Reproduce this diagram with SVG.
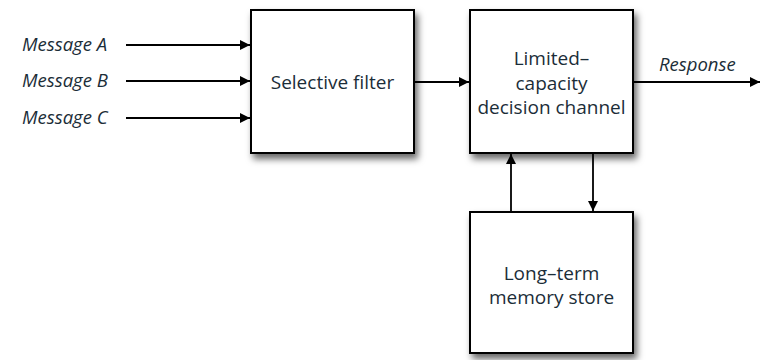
<svg xmlns="http://www.w3.org/2000/svg" width="760" height="360" viewBox="0 0 760 360">
<style>
.box{fill:#fff;stroke:#000;stroke-width:2;filter:url(#sh)}
.t{font-family:"Open Sans","Noto Sans",sans-serif;font-size:19px;fill:#1b2d38;text-anchor:middle}
.i{font-family:"Open Sans","Noto Sans",sans-serif;font-size:18.5px;fill:#1b2d38;font-style:italic}
.c{stroke:#000;stroke-width:1.8;fill:none;marker-end:url(#ah)}
</style>
<defs>
<filter id="sh" x="-20%" y="-20%" width="150%" height="150%">
<feDropShadow dx="3" dy="5" stdDeviation="3.5" flood-color="#000" flood-opacity="0.6"/>
</filter>
<marker id="ah" viewBox="0 0 10 10" refX="10" refY="5" markerWidth="10" markerHeight="10" markerUnits="userSpaceOnUse" orient="auto">
<path d="M0,0 L10,5 L0,10 z" fill="#000"/>
</marker>
</defs>
<g id="filter"><rect class="box" x="251" y="10" width="163" height="143"/><text class="t" x="332.5" y="89">Selective filter</text></g>
<g id="channel"><rect class="box" x="470" y="10" width="163" height="143"/><text class="t" x="551.5" y="65">Limited–</text><text class="t" x="551.5" y="90">capacity</text><text class="t" x="551.5" y="114">decision channel</text></g>
<g id="memory"><rect class="box" x="470" y="212" width="163" height="141"/><text class="t" x="551.5" y="280">Long–term</text><text class="t" x="551.5" y="304">memory store</text></g>
<g id="labels">
<text class="i" x="22" y="51">Message A</text>
<text class="i" x="22" y="87">Message B</text>
<text class="i" x="22" y="124">Message C</text>
<text class="i" x="659" y="71">Response</text>
</g>
<g id="connectors">
<line class="c" x1="126" y1="45" x2="250" y2="45"/>
<line class="c" x1="126" y1="81" x2="250" y2="81"/>
<line class="c" x1="126" y1="118" x2="250" y2="118"/>
<line class="c" x1="414" y1="82" x2="469" y2="82"/>
<line class="c" x1="633" y1="82" x2="760" y2="82"/>
<line class="c" x1="511" y1="211" x2="511" y2="154"/>
<line class="c" x1="593" y1="154" x2="593" y2="211"/>
</g>
</svg>
